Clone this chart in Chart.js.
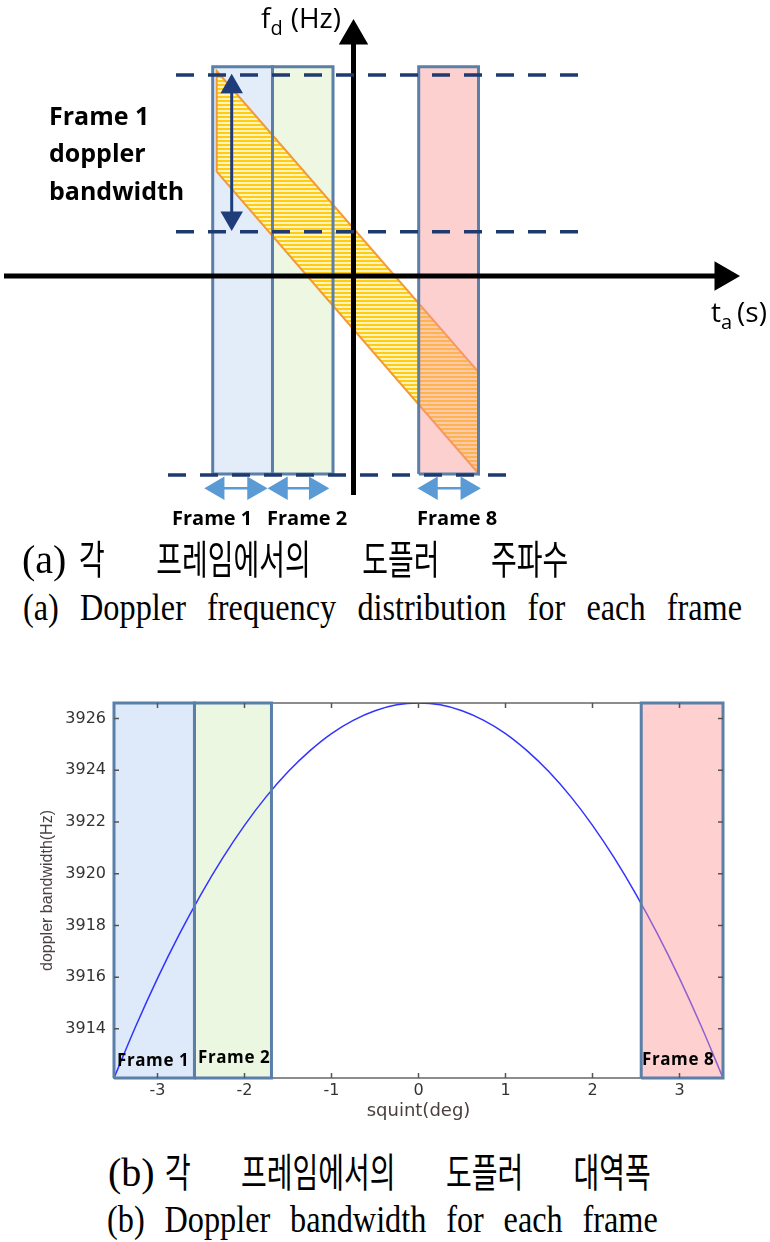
<!DOCTYPE html>
<html><head><meta charset="utf-8">
<script src="https://cdn.jsdelivr.net/npm/chart.js@4.4.1/dist/chart.umd.min.js"></script>
<style>
html,body{margin:0;padding:0;background:#fff;}
#wrap{position:relative;width:770px;height:1242px;overflow:hidden;background:#fff;}
canvas{position:absolute;left:0;}
#cA{top:0;}
#cB{top:680px;}
.t{position:absolute;white-space:nowrap;color:#000;font-family:"Open Sans",sans-serif;}
.b{font-weight:700;}
.krl{position:absolute;display:flex;justify-content:space-between;align-items:baseline;color:#000;font-family:"Noto Sans CJK KR",sans-serif;font-size:40px;line-height:40px;transform:scaleX(0.7);transform-origin:0 0;}
.krl span{white-space:nowrap;}
.sr{position:absolute;white-space:nowrap;color:#000;font-family:"Liberation Serif",serif;font-size:40px;line-height:40px;}
.cap{position:absolute;display:flex;justify-content:space-between;align-items:baseline;transform-origin:0 0;font-family:"Liberation Serif",serif;color:#000;}
.cap span{white-space:nowrap;}
</style></head>
<body><div id="wrap">
<canvas id="cA" width="770" height="540"></canvas>
<canvas id="cB" width="770" height="460"></canvas>

<div class="t" style="left:261px;top:3px;font-size:28px;line-height:28px;">f<span style="font-size:20px;position:relative;top:7px;">d</span><span style="margin-left:8px">(Hz)</span></div>
<div class="t" style="left:711px;top:297px;font-size:28px;line-height:28px;">t<span style="font-size:20px;position:relative;top:7px;">a</span><span style="margin-left:5px">(s)</span></div>
<div class="t b" style="left:49px;top:97px;font-size:25px;line-height:37.4px;">Frame 1<br>doppler<br>bandwidth</div>
<div class="t b" style="left:172px;top:508px;font-size:20px;line-height:20px;">Frame 1</div>
<div class="t b" style="left:267px;top:508px;font-size:20px;line-height:20px;">Frame 2</div>
<div class="t b" style="left:417px;top:508px;font-size:20px;line-height:20px;">Frame 8</div>

<div class="sr" style="left:22px;top:539.5px;">(a)</div>
<div class="krl" style="left:79px;top:536.5px;width:699px;"><span>각</span><span>프레임에서의</span><span>도플러</span><span>주파수</span></div>
<div class="cap" style="left:23px;top:588px;width:846px;font-size:38px;line-height:38px;transform:scaleX(0.85);"><span>(a)</span><span>Doppler</span><span>frequency</span><span>distribution</span><span>for</span><span>each</span><span>frame</span></div>

<div class="t b" style="left:117px;top:1051px;font-size:17px;line-height:17px;letter-spacing:0.6px;">Frame 1</div>
<div class="t b" style="left:198px;top:1048px;font-size:17px;line-height:17px;letter-spacing:0.6px;">Frame 2</div>
<div class="t b" style="left:642px;top:1050px;font-size:17px;line-height:17px;letter-spacing:0.6px;">Frame 8</div>

<div class="sr" style="left:108px;top:1152.8px;">(b)</div>
<div class="krl" style="left:165px;top:1149.8px;width:694px;"><span>각</span><span>프레임에서의</span><span>도플러</span><span>대역폭</span></div>
<div class="cap" style="left:107px;top:1200px;width:648px;font-size:38px;line-height:38px;transform:scaleX(0.85);"><span>(b)</span><span>Doppler</span><span>bandwidth</span><span>for</span><span>each</span><span>frame</span></div>
</div>
<script>
// ===== (a) schematic: slow time t vs Doppler f (schematic units) =====
const frameLabelsA = ['Frame 1', 'Frame 2', 'Frame 8'];
const frameStartT = [-14.08, -8.10, 6.52];
const frameEndT   = [-8.10, -2.05, 12.50];
const frameTopF = 20.93;
const frameBottomF = -19.8;
const dashLevelF = [20.1, 4.43, -19.9];
const dashStartT = [-17.75, -17.75, -18.55];
const dashEndT   = [23.65, 23.65, 16.15];
const bandT      = [-13.68, 12.50];
const bandUpperF = [20.5, -9.6];
const bandLowerF = [10.43, -19.75];
const timeAxisT  = [-34.95, 36.95];
const freqAxisF  = [-21.9, 24.0];
const bwArrowT   = -12.18;
const bwArrowF   = [18.93, 5.8];
const spanArrowF = -21.23;
const spanArrowStartT = [-13.58, -7.25, 7.75];
const spanArrowEndT   = [-9.95, -3.78, 11.38];
const viewT = [-35.35, 41.65];
const viewF = [-26.4, 27.6];

// ===== (b) Doppler bandwidth vs squint =====
const squintDeg = [-3.5,-3.25,-3.0,-2.75,-2.5,-2.25,-2.0,-1.75,-1.5,-1.25,-1.0,-0.75,-0.5,-0.25,0,
                   0.25,0.5,0.75,1.0,1.25,1.5,1.75,2.0,2.25,2.5,2.75,3.0,3.25,3.5];
const dopplerBwHz = [3912.10,3914.10,3915.95,3917.65,3919.20,3920.61,3921.87,3922.98,3923.94,3924.75,3925.42,3925.93,3926.30,3926.53,3926.60,
                     3926.53,3926.30,3925.93,3925.42,3924.75,3923.94,3922.98,3921.87,3920.61,3919.20,3917.65,3915.95,3914.10,3912.10];
const squintTicks = [-3, -2, -1, 0, 1, 2, 3];
const bwTicks = [3914, 3916, 3918, 3920, 3922, 3924, 3926];
const frameLabelsB = ['Frame 1', 'Frame 2', 'Frame 8'];
const frameStartDeg = [-3.5, -2.575, 2.56];
const frameEndDeg   = [-2.575, -1.69, 3.5];
const squintRange = [-3.5, 3.5];
const bwRange = [3912.1, 3926.6];

// ---------- styles ----------
const frameFillA = ['#e2edf9', '#eef7e2', 'rgba(250,150,150,0.45)'];
const frameFillB = ['#deeaf9', '#ecf7e1', 'rgba(255,150,150,0.45)'];
const frameOrderB = [20, 20, 5];
const frameEdge = '#5a7fa8';
const navy = '#1f3a6e';
const lightBlue = '#5b9bd5';

const P = (xs, ys) => xs.map((x, i) => ({x, y: ys[i]}));
const rect = (x0, x1, y0, y1) => [{x:x0,y:y0},{x:x1,y:y0},{x:x1,y:y1},{x:x0,y:y1},{x:x0,y:y0}];
const base = {showLine: true, pointRadius: 0, fill: false, tension: 0};

const ctxA = document.getElementById('cA').getContext('2d');
const pc = document.createElement('canvas'); pc.width = 8; pc.height = 4;
const pctx = pc.getContext('2d');
pctx.fillStyle = '#fff3c0'; pctx.fillRect(0, 0, 8, 4);
pctx.fillStyle = '#ffcc10'; pctx.fillRect(0, 0, 8, 2);
const hatch = ctxA.createPattern(pc, 'repeat');

const dsA = [];
for (let i = 0; i < 2; i++) {
  dsA.push({...base, data: P([frameStartT[i], frameEndT[i]], [frameTopF, frameTopF]),
    fill: {value: frameBottomF}, backgroundColor: frameFillA[i], borderWidth: 0, order: 20});
}
dsA.push({...base, data: P(bandT, bandUpperF), fill: '+1', backgroundColor: hatch, borderWidth: 0, order: 15});
dsA.push({...base, data: P(bandT, bandLowerF), borderWidth: 0, order: 15});
dsA.push({...base, data: [{x:bandT[0],y:bandLowerF[0]},{x:bandT[0],y:bandUpperF[0]},{x:bandT[1],y:bandUpperF[1]},{x:bandT[1],y:bandLowerF[1]},{x:bandT[0],y:bandLowerF[0]}],
  borderColor: '#f39a38', borderWidth: 2, order: 14});
dsA.push({...base, data: P([frameStartT[2], frameEndT[2]], [frameTopF, frameTopF]),
  fill: {value: frameBottomF}, backgroundColor: frameFillA[2], borderWidth: 0, order: 12});
for (let i = 0; i < 3; i++) {
  dsA.push({...base, data: rect(frameStartT[i], frameEndT[i], frameBottomF, frameTopF),
    borderColor: frameEdge, borderWidth: 3, borderJoinStyle: 'miter', order: 10});
}
dsA.push({...base, data: P(timeAxisT, [0, 0]), borderColor: '#000', borderWidth: 5,
  pointRadius: [0, 12], pointStyle: 'triangle', pointRotation: [0, 90],
  pointBackgroundColor: '#000', pointBorderColor: '#000', order: 8, clip: false});
dsA.push({...base, data: P([0, 0], freqAxisF), borderColor: '#000', borderWidth: 5,
  pointRadius: [0, 12], pointStyle: 'triangle', pointRotation: [0, 0],
  pointBackgroundColor: '#000', pointBorderColor: '#000', order: 8, clip: false});
for (let i = 0; i < 3; i++) {
  dsA.push({...base, data: P([dashStartT[i], dashEndT[i]], [dashLevelF[i], dashLevelF[i]]),
    borderColor: navy, borderWidth: 3.5, borderDash: [18, 14], borderCapStyle: 'butt', order: 5});
}
dsA.push({...base, data: P([bwArrowT, bwArrowT], bwArrowF), borderColor: '#1f3d7a', borderWidth: 3,
  pointRadius: 10, pointStyle: 'triangle', pointRotation: [0, 180],
  pointBackgroundColor: '#1f3d7a', pointBorderColor: '#1f3d7a', order: 2});
for (let i = 0; i < 3; i++) {
  dsA.push({...base, data: P([spanArrowStartT[i], spanArrowEndT[i]], [spanArrowF, spanArrowF]),
    borderColor: lightBlue, borderWidth: 2.5, pointRadius: 11, pointStyle: 'triangle',
    pointRotation: [270, 90], pointBackgroundColor: lightBlue, pointBorderColor: lightBlue, order: 2});
}

new Chart(document.getElementById('cA'), {
  type: 'scatter',
  data: {datasets: dsA},
  options: {
    responsive: false, animation: false, events: [],
    layout: {padding: 0, autoPadding: false},
    plugins: {legend: {display: false}, tooltip: {enabled: false}},
    scales: {
      x: {type: 'linear', display: false, min: viewT[0], max: viewT[1]},
      y: {type: 'linear', display: false, min: viewF[0], max: viewF[1]}
    }
  }
});

const matlabAxes = {
  id: 'matlabAxes',
  beforeDatasetsDraw(chart) {
    const {ctx, chartArea: a} = chart;
    ctx.save(); ctx.strokeStyle = '#8c8c8c'; ctx.lineWidth = 2;
    ctx.strokeRect(a.left, a.top, a.right - a.left, a.bottom - a.top);
    ctx.restore();
  },
  afterDatasetsDraw(chart) {
    const {ctx, chartArea: a, scales: {x, y}} = chart;
    ctx.save(); ctx.strokeStyle = '#555'; ctx.lineWidth = 1.5; ctx.beginPath();
    x.ticks.forEach(t => { const px = x.getPixelForValue(t.value);
      ctx.moveTo(px, a.bottom); ctx.lineTo(px, a.bottom - 5); ctx.moveTo(px, a.top); ctx.lineTo(px, a.top + 5); });
    y.ticks.forEach(t => { const py = y.getPixelForValue(t.value);
      ctx.moveTo(a.left, py); ctx.lineTo(a.left + 5, py); ctx.moveTo(a.right, py); ctx.lineTo(a.right - 5, py); });
    ctx.stroke(); ctx.restore();
  }
};

const dsB = [];
dsB.push({...base, data: P(squintDeg, dopplerBwHz), borderColor: '#3333ff', borderWidth: 1.5,
  cubicInterpolationMode: 'monotone', order: 10});
for (let i = 0; i < 3; i++) {
  dsB.push({...base, data: P([frameStartDeg[i], frameEndDeg[i]], [bwRange[1], bwRange[1]]),
    fill: 'start', backgroundColor: frameFillB[i], borderWidth: 0, order: frameOrderB[i]});
}
for (let i = 0; i < 3; i++) {
  dsB.push({...base, data: rect(frameStartDeg[i], frameEndDeg[i], bwRange[0], bwRange[1]),
    borderColor: frameEdge, borderWidth: 3, borderJoinStyle: 'miter', order: 1, clip: false});
}
const tickFont = {family: '"DejaVu Sans", sans-serif', size: 16};
const xTitleFont = {family: '"DejaVu Sans", sans-serif', size: 18};
const yTitleFont = {family: '"Liberation Sans", Arial, sans-serif', size: 16};
new Chart(document.getElementById('cB'), {
  type: 'scatter',
  data: {datasets: dsB},
  options: {
    responsive: false, animation: false, events: [],
    layout: {padding: {top: 23, right: 47, left: 0, bottom: 0}, autoPadding: false},
    plugins: {legend: {display: false}, tooltip: {enabled: false}},
    scales: {
      x: {type: 'linear', min: squintRange[0], max: squintRange[1],
        afterBuildTicks: s => { s.ticks = squintTicks.map(v => ({value: v})); },
        afterFit: s => { s.height = 62; },
        grid: {display: false, drawTicks: false}, border: {display: false},
        ticks: {autoSkip: false, maxRotation: 0, padding: 3, color: '#333', font: tickFont, callback: v => String(v)},
        title: {display: true, text: 'squint(deg)', color: '#4a4040', font: xTitleFont, padding: {top: 0, bottom: 18.2}}},
      y: {type: 'linear', min: bwRange[0], max: bwRange[1],
        afterBuildTicks: s => { s.ticks = bwTicks.map(v => ({value: v})); },
        afterFit: s => { s.width = 114; },
        grid: {display: false, drawTicks: false}, border: {display: false},
        ticks: {autoSkip: false, padding: 8, color: '#333', font: tickFont, callback: v => String(v)},
        title: {display: true, text: 'doppler bandwidth(Hz)', color: '#4a4040', font: yTitleFont, padding: {top: 38.4, bottom: 0}}}
    }
  },
  plugins: [matlabAxes]
});
</script>
</body></html>
